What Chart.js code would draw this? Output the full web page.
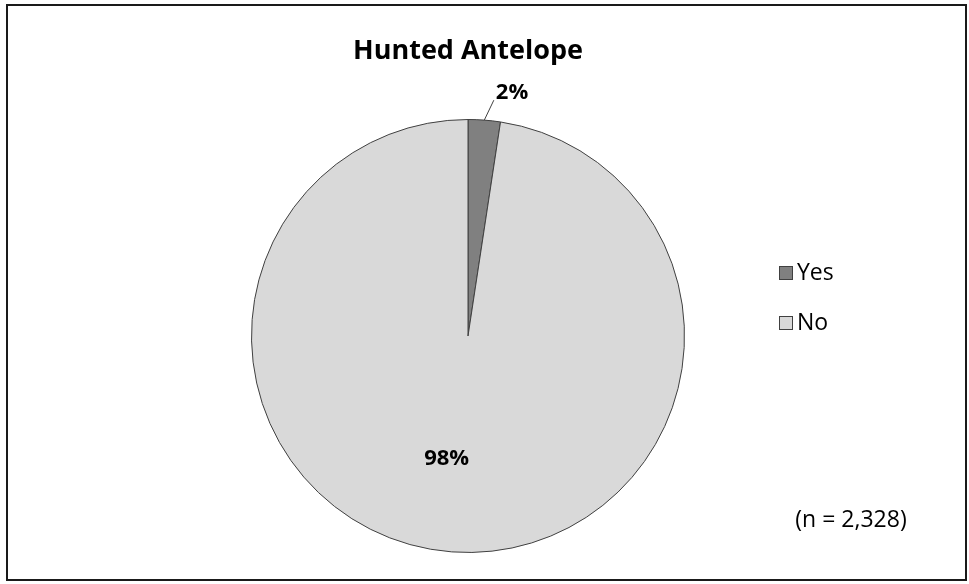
<!DOCTYPE html>
<html>
<head>
<meta charset="utf-8">
<script src="https://cdn.jsdelivr.net/npm/chart.js@4"></script>
<style>
  body { margin: 0; background: #fff; }
  canvas { display: block; }
</style>
</head>
<body>
<canvas id="chart" width="969" height="584"></canvas>
<script>
const categories = ['Yes', 'No'];
const shares = [2.4, 97.6];          // percent of respondents
const shareLabels = ['2%', '98%'];
const sampleNote = '(n = 2,328)';
const titleText = 'Hunted Antelope';
const sliceColors = ['#808080', '#d9d9d9'];

const FONT = '"Open Sans", "Liberation Sans", sans-serif';

// title, labels, legend, frame
const decor = {
    id: 'decor',
    afterDraw(chart) {
        const ctx = chart.ctx;
        const arcs = chart.getDatasetMeta(0).data;
        ctx.save();

        // frame
        ctx.strokeStyle = '#1a1a1a';
        ctx.lineWidth = 2;
        ctx.strokeRect(7, 5, 959, 575);

        // title
        ctx.fillStyle = '#000';
        ctx.textAlign = 'center';
        ctx.textBaseline = 'middle';
        ctx.font = 'bold 27px ' + FONT;
        ctx.fillText(titleText, 468, 51);

        // slice labels
        ctx.font = 'bold 22px ' + FONT;
        arcs.forEach((arc, i) => {
            const mid = (arc.startAngle + arc.endAngle) / 2;
            const r = arc.outerRadius;
            if (shares[i] < 5) {
                // small slice: label outside with leader line
                const x1 = arc.x + Math.cos(mid) * r;
                const y1 = arc.y + Math.sin(mid) * r;
                const x2 = arc.x + Math.cos(mid) * (r + 20) + 8;
                const y2 = arc.y + Math.sin(mid) * (r + 20);
                ctx.strokeStyle = '#404040';
                ctx.lineWidth = 1;
                ctx.beginPath();
                ctx.moveTo(x1, y1);
                ctx.lineTo(x2, y2);
                ctx.stroke();
                ctx.textAlign = 'left';
                ctx.fillText(shareLabels[i], x2 + 2, y2 - 7);
            } else {
                ctx.textAlign = 'center';
                ctx.fillText(shareLabels[i],
                    arc.x + Math.cos(mid) * r * 0.57 - 12,
                    arc.y + Math.sin(mid) * r * 0.57);
            }
        });

        // legend
        ctx.font = '23px ' + FONT;
        ctx.textAlign = 'left';
        categories.forEach((c, i) => {
            const y = 273 + i * 50;
            ctx.fillStyle = sliceColors[i];
            ctx.fillRect(779, y - 7, 14, 14);
            ctx.strokeStyle = '#404040';
            ctx.lineWidth = 1;
            ctx.strokeRect(779.5, y - 6.5, 13, 13);
            ctx.fillStyle = '#000';
            ctx.fillText(c, 797, y);
        });

        // sample size
        ctx.font = '23px ' + FONT;
        ctx.textAlign = 'center';
        ctx.fillText(sampleNote, 851, 520);

        ctx.restore();
    }
};

new Chart(document.getElementById('chart'), {
    type: 'pie',
    data: {
        labels: categories,
        datasets: [{
            data: shares,
            backgroundColor: sliceColors,
            borderColor: '#404040',
            borderWidth: 1,
            hoverOffset: 0
        }]
    },
    options: {
        responsive: false,
        animation: false,
        layout: { padding: { left: 251, right: 284, top: 119, bottom: 31 } },
        plugins: {
            legend: { display: false },
            tooltip: { enabled: false },
            title: { display: false }
        }
    },
    plugins: [decor]
});
</script>
</body>
</html>
